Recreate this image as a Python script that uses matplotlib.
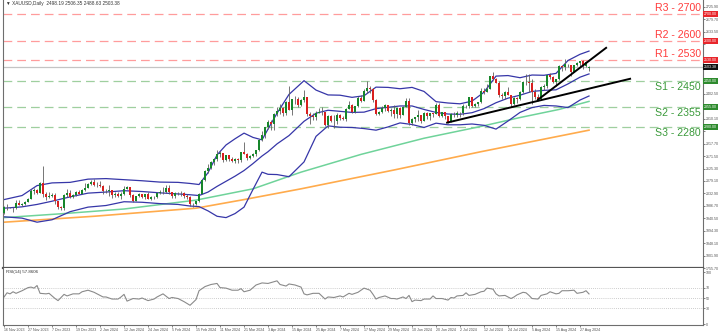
import numpy as np
import matplotlib
matplotlib.use('Agg')
import matplotlib.pyplot as plt
from matplotlib.transforms import blended_transform_factory

plt.rcParams['font.family'] = ['Liberation Sans', 'DejaVu Sans']

# XAUUSD daily bars, 16 Nov 2023 .. 30 Aug 2024 (one row per month)
opens = [
    1960, 1981, 1981, 1980, 1977, 1998, 1990, 1992, 2002, 2013, 2041, 2044,
    2036, 2072, 2029, 2019, 2025, 2028, 2004, 1981, 1979, 2027, 2035, 2019, 2027, 2040, 2031, 2045, 2053, 2067, 2077, 2065,
    2063, 2059, 2041, 2043, 2045, 2027, 2030, 2024, 2029, 2049, 2055, 2028, 2006, 2023, 2029, 2021, 2029, 2014, 2020, 2018, 2033, 2037,
    2039, 2054, 2039, 2024, 2035, 2035, 2034, 2024, 2020, 1992, 1992, 2004,
    2032, 2083, 2115, 2128, 2148, 2159, 2179, 2182, 2158, 2174, 2162, 2155, 2160, 2157, 2186, 2181, 2165, 2171, 2178, 2194,
    2230, 2250, 2280, 2300, 2290, 2329, 2339, 2352, 2333, 2372, 2344, 2383, 2383, 2361, 2379, 2392, 2327, 2322, 2316, 2332, 2337, 2335,
    2286, 2320, 2303, 2301, 2323, 2314, 2309, 2346, 2360, 2336, 2358, 2386, 2376, 2415, 2425, 2420, 2379, 2329, 2334, 2350, 2361, 2338, 2343,
    2327, 2350, 2326, 2355, 2376, 2294, 2311, 2316, 2325, 2303, 2333, 2319, 2330, 2328, 2361, 2322, 2334, 2320, 2298, 2327,
    2326, 2332, 2330, 2356, 2356, 2392, 2359, 2364, 2371, 2415, 2411, 2422, 2469, 2459, 2445, 2400, 2396, 2409, 2398, 2364, 2387, 2384, 2410,
    2447, 2446, 2442, 2410, 2390, 2383, 2427, 2431, 2472, 2465, 2447, 2457, 2507, 2503, 2513, 2512, 2485, 2512, 2518, 2524, 2505, 2498.19,
]
highs = [
    1988, 1994, 1984, 1984, 2008, 2008, 1996, 2004, 2017, 2048, 2052, 2048,
    2075, 2135, 2038, 2040, 2034, 2036, 2006, 1988, 2030, 2048, 2047, 2031, 2043, 2047, 2048, 2071, 2070, 2084, 2088, 2075,
    2078, 2064, 2051, 2064, 2046, 2038, 2040, 2040, 2062, 2059, 2057, 2030, 2024, 2035, 2032, 2031, 2037, 2024, 2025, 2037, 2045, 2056,
    2065, 2066, 2040, 2038, 2040, 2041, 2038, 2031, 2022, 1997, 2005, 2036,
    2088, 2120, 2141, 2152, 2165, 2195, 2189, 2184, 2175, 2175, 2168, 2164, 2163, 2188, 2223, 2185, 2175, 2184, 2196, 2236,
    2266, 2281, 2305, 2305, 2330, 2354, 2365, 2355, 2378, 2431, 2385, 2394, 2393, 2385, 2418, 2393, 2334, 2333, 2338, 2352, 2353, 2336,
    2326, 2326, 2323, 2331, 2328, 2322, 2351, 2378, 2364, 2359, 2396, 2397, 2422, 2450, 2431, 2426, 2385, 2340, 2358, 2364, 2361, 2352, 2361,
    2354, 2353, 2358, 2388, 2387, 2315, 2318, 2342, 2326, 2337, 2334, 2332, 2332, 2368, 2368, 2336, 2335, 2321, 2330, 2336,
    2338, 2335, 2365, 2363, 2392, 2393, 2370, 2374, 2424, 2424, 2440, 2470, 2483, 2462, 2450, 2405, 2413, 2430, 2399, 2391, 2393, 2412, 2451,
    2477, 2477, 2460, 2420, 2401, 2432, 2441, 2473, 2479, 2471, 2460, 2509, 2510, 2531, 2514, 2512, 2512, 2520, 2526, 2528, 2524, 2506.35,
]
lows = [
    1958, 1971, 1978, 1965, 1974, 1989, 1986, 1990, 2001, 2011, 2032, 2031,
    2034, 2018, 2010, 2016, 2018, 1995, 1975, 1973, 1973, 2021, 2015, 2016, 2024, 2029, 2030, 2042, 2053, 2065, 2062, 2058,
    2057, 2031, 2033, 2024, 2017, 2021, 2019, 2013, 2028, 2049, 2018, 2002, 2006, 2021, 2017, 2011, 2012, 2010, 2013, 2015, 2029, 2030,
    2035, 2032, 2015, 2017, 2026, 2025, 2017, 2012, 1985, 1984, 1990, 2000,
    2030, 2078, 2110, 2124, 2140, 2153, 2170, 2150, 2155, 2154, 2150, 2146, 2146, 2150, 2180, 2157, 2160, 2168, 2173, 2191,
    2228, 2240, 2272, 2268, 2267, 2320, 2329, 2319, 2326, 2342, 2325, 2366, 2355, 2358, 2371, 2320, 2292, 2307, 2305, 2331, 2325, 2285,
    2277, 2298, 2277, 2291, 2305, 2304, 2303, 2345, 2332, 2332, 2353, 2372, 2375, 2407, 2405, 2374, 2326, 2325, 2333, 2341, 2334, 2322, 2314,
    2314, 2314, 2323, 2354, 2286, 2287, 2299, 2301, 2296, 2301, 2311, 2306, 2318, 2327, 2316, 2316, 2308, 2293, 2297, 2318,
    2318, 2318, 2326, 2352, 2351, 2353, 2355, 2359, 2368, 2401, 2410, 2420, 2455, 2442, 2393, 2385, 2383, 2400, 2353, 2360, 2370, 2381, 2406,
    2436, 2411, 2364, 2385, 2377, 2382, 2419, 2425, 2460, 2443, 2432, 2455, 2489, 2493, 2502, 2470, 2484, 2505, 2504, 2494, 2503, 2488.63,
]
closes = [
    1981, 1981, 1980, 1977, 1998, 1990, 1992, 2002, 2013, 2041, 2044, 2036,
    2072, 2029, 2019, 2025, 2028, 2004, 1981, 1979, 2027, 2035, 2019, 2027, 2040, 2031, 2045, 2053, 2067, 2077, 2065, 2063,
    2059, 2041, 2043, 2045, 2027, 2030, 2024, 2029, 2049, 2055, 2028, 2006, 2023, 2029, 2021, 2029, 2014, 2020, 2018, 2033, 2037, 2039,
    2054, 2039, 2024, 2035, 2035, 2034, 2024, 2020, 1992, 1992, 2004, 2032,
    2083, 2115, 2128, 2148, 2159, 2179, 2182, 2158, 2174, 2162, 2155, 2160, 2157, 2186, 2181, 2165, 2171, 2178, 2194, 2230,
    2250, 2280, 2300, 2290, 2329, 2339, 2352, 2333, 2372, 2344, 2383, 2383, 2361, 2379, 2392, 2327, 2322, 2316, 2332, 2337, 2335, 2286,
    2320, 2303, 2301, 2323, 2314, 2309, 2346, 2360, 2336, 2358, 2386, 2376, 2415, 2425, 2420, 2379, 2329, 2334, 2350, 2361, 2338, 2343, 2327,
    2350, 2326, 2355, 2376, 2294, 2311, 2316, 2325, 2303, 2333, 2319, 2330, 2328, 2361, 2322, 2334, 2320, 2298, 2327, 2326,
    2332, 2330, 2356, 2356, 2392, 2359, 2364, 2371, 2415, 2411, 2422, 2469, 2459, 2445, 2400, 2396, 2409, 2398, 2364, 2387, 2384, 2410, 2447,
    2446, 2442, 2410, 2390, 2383, 2427, 2431, 2472, 2465, 2447, 2457, 2507, 2503, 2513, 2512, 2485, 2512, 2518, 2524, 2505, 2521, 2503.38,
]

date_labels = ['16 Nov 2023', '27 Nov 2023', '7 Dec 2023', '19 Dec 2023', '2 Jan 2024',
               '12 Jan 2024', '24 Jan 2024', '5 Feb 2024', '15 Feb 2024', '11 Mar 2024',
               '21 Mar 2024', '3 Apr 2024', '15 Apr 2024', '25 Apr 2024', '7 May 2024',
               '17 May 2024', '29 May 2024', '10 Jun 2024', '20 Jun 2024', '2 Jul 2024',
               '12 Jul 2024', '24 Jul 2024', '5 Aug 2024', '15 Aug 2024', '27 Aug 2024']
label_step = 8

# Bollinger(20, 2) envelope, sampled by bar index
bb_idx = [0, 6, 11, 16, 22, 28, 34, 40, 46, 52, 58, 62, 65, 68, 71, 74, 77, 80, 83, 86,
          88, 91, 95, 100, 104, 108, 112, 116, 120, 124, 128, 132, 136, 140, 144, 148,
          152, 156, 160, 164, 168, 172, 176, 180, 184, 188, 192, 195]
bb_up = [2010, 2025, 2062, 2072, 2074, 2086, 2088, 2084, 2080, 2075, 2074, 2070, 2066, 2110, 2176,
         2213, 2236, 2257, 2241, 2232, 2272, 2331, 2401, 2452, 2417, 2399, 2398, 2390, 2396, 2428,
         2427, 2422, 2427, 2412, 2374, 2369, 2366, 2376, 2409, 2469, 2471, 2463, 2473, 2472, 2479,
         2527, 2550, 2562]
bb_mid = [1978, 1983, 1992, 2004, 2020, 2034, 2038, 2043, 2040, 2035, 2031, 2028, 2025, 2038, 2059,
          2078, 2097, 2118, 2144, 2172, 2188, 2217, 2248, 2301, 2331, 2342, 2338, 2334, 2335, 2348,
          2353, 2358, 2358, 2345, 2334, 2328, 2327, 2333, 2348, 2370, 2387, 2398, 2412, 2416, 2418,
          2440, 2465, 2477]
bb_low = [1946, 1941, 1926, 1935, 1965, 1982, 1988, 2002, 2000, 1995, 1992, 1986, 1984, 1968, 1948,
          1943, 1958, 1982, 2048, 2112, 2104, 2103, 2095, 2150, 2245, 2284, 2279, 2278, 2274, 2268,
          2280, 2295, 2289, 2278, 2294, 2288, 2288, 2291, 2286, 2272, 2302, 2334, 2352, 2360, 2358,
          2352, 2380, 2395]

# moving averages, sampled by bar index
ma100_idx = [0, 20, 40, 64, 83, 99, 119, 140, 159, 172, 185, 195]
ma100 = [1943, 1958, 1975, 2008, 2050, 2112, 2178, 2238, 2282, 2315, 2345, 2375]
ma200_idx = [0, 30, 64, 80, 99, 130, 159, 195]
ma200 = [1926, 1948, 1978, 2010, 2050, 2120, 2188, 2268]

# RSI(14), sampled by bar index
rsi_idx = [0, 1, 2, 3, 4, 6, 8, 9, 10, 11, 12, 14, 15, 17, 18, 20, 21, 23, 25, 26, 28, 30, 31, 33, 34,
           36, 38, 39, 40, 41, 43, 45, 46, 48, 50, 51, 53, 55, 56, 58, 60, 62, 64, 65, 67, 69, 71, 72,
           74, 76, 78, 79, 80, 82, 84, 86, 88, 91, 92, 94, 95, 97, 99, 100, 101, 103, 105, 107, 108,
           110, 112, 113, 115, 116, 118, 119, 120, 122, 123, 124, 125, 127, 129, 130, 131, 133, 134,
           135, 136, 137, 139, 140, 142, 143, 144, 146, 148, 149, 150, 151, 153, 154, 155, 157, 159,
           160, 161, 163, 164, 165, 167, 169, 170, 171, 173, 174, 175, 176, 178, 179, 181, 182, 184,
           185, 186, 188, 190, 191, 193, 194, 195]
rsi = [52, 60, 58, 62, 59, 64, 70, 71, 69, 74, 59, 58, 59, 49, 45, 57, 54, 58, 58, 62, 65, 61, 58, 52, 52,
       48, 48, 52, 57, 44, 49, 48, 50, 45, 48, 52, 58, 49, 51, 49, 43, 36, 47, 64, 72, 76, 78, 70,
       69, 65, 65, 68, 62, 65, 75, 79, 78, 83, 76, 73, 77, 75, 71, 58, 56, 59, 59, 48, 52,
       51, 54, 52, 59, 57, 61, 65, 69, 65, 57, 48, 51, 54, 49, 49, 48, 52, 49,
       55, 43, 46, 45, 48, 48, 54, 49, 49, 46, 51, 50, 54, 55, 60, 55, 57, 62,
       63, 69, 67, 58, 54, 55, 49, 52, 56, 61, 60, 55, 49, 48, 55, 58, 62, 58,
       59, 64, 64, 65, 59, 61, 64, 57.86]

levels_r = [2700, 2600, 2530]
levels_s = [2450, 2355, 2280]
level_names_r = ['R3', 'R2', 'R1']
level_names_s = ['S1', 'S2', 'S3']

# trend lines: (bar index, price) end points
trend_steep = ([178, 200.7], [2381.5, 2574])
trend_long = ([147.7, 208.7], [2296, 2459])

title_text = '\u25bc XAUUSD,Daily  2498.19 2506.35 2488.63 2503.38'
rsi_label = 'RSI(14) 57.8606'

# colours
BULL = '#17862b'
BEAR = '#d8201f'
WICK = '#5f5f5f'
BAND = '#3636a8'
MA_G = '#6fd39a'
MA_O = '#ffab4c'
R_LINE = '#ff9c9c'
S_LINE = '#9fcf9f'
R_TXT = '#ff3b3b'
S_TXT = '#3b9a3b'
FRAME = '#6e6e6e'
TICK_TXT = '#505050'

W, H = 720, 334
fig = plt.figure(figsize=(W / 100, H / 100), dpi=100)
fig.patch.set_facecolor('white')

def px_box(x0, y0, x1, y1):
    return [x0 / W, 1 - y1 / H, (x1 - x0) / W, (y1 - y0) / H]

ax = fig.add_axes(px_box(3, 0, 703, 268))
ar = fig.add_axes(px_box(3, 268, 703, 325), sharex=ax)

n = len(closes)
x = np.arange(n)
o = np.array(opens); h = np.array(highs); l = np.array(lows); c = np.array(closes)
up = c >= o

ax.set_xlim(-0.35, 233)
ax.set_ylim(2700 - 254 / 0.27, 2700 + 14 / 0.27)

# support / resistance levels
for v, nm in zip(levels_r, level_names_r):
    ax.axhline(v, color=R_LINE, lw=0.9, ls=(0, (7, 4)), zorder=1)
    ax.text(232.3, v + 3, f'{nm} - {v}', color=R_TXT, fontsize=7.6, ha='right', va='bottom', zorder=6)
for v, nm in zip(levels_s, level_names_s):
    ax.axhline(v, color=S_LINE, lw=0.9, ls=(0, (7, 4)), zorder=1)
    ax.text(232.3, v - 4, f'{nm} - {v}', color=S_TXT, fontsize=7.6, ha='right', va='top', zorder=6)

# last price line
ax.axhline(closes[-1], color='#c4c4c4', lw=0.9, zorder=1)

# moving averages and bands
ax.plot(ma200_idx, ma200, color=MA_O, lw=1.2, zorder=2)
ax.plot(ma100_idx, ma100, color=MA_G, lw=1.1, zorder=2)
for arr in (bb_up, bb_mid, bb_low):
    ax.plot(bb_idx, arr, color=BAND, lw=0.9, zorder=2)

# candles
ax.vlines(x, l, h, color=WICK, lw=0.6, zorder=3)
body = np.where(np.abs(c - o) < 1.2, 1.2, c - o)
ax.bar(x, body, bottom=o, width=0.7, color=np.where(up, BULL, BEAR), lw=0, zorder=4)

# trend lines
ax.plot(*trend_steep, color='black', lw=1.4, zorder=5)
ax.plot(*trend_long, color='black', lw=1.4, zorder=5)

ax.text(0.6, 2700 + 10 / 0.27, title_text, fontsize=3.4, color='#333333', va='center', ha='left')

# price scale on the right; labels hidden where a price tag sits on top
tags = [(v, '#e8262b') for v in levels_r] + [(closes[-1], '#111111')] + [(v, '#2e8b2e') for v in levels_s]
yt = [1755.70 + 46.2 * k for k in range(22)]
ax.yaxis.tick_right()
ax.set_yticks(yt)
ax.set_yticklabels(['' if min(abs(v - t) for t, _ in tags) < 20 else f'{v:.2f}' for v in yt])
ax.tick_params(axis='y', labelsize=2.6, length=1.5, width=0.5, pad=0.8, colors=TICK_TXT)
ax.tick_params(axis='x', bottom=False, labelbottom=False)

tr = blended_transform_factory(ax.transAxes, ax.transData)
for v, col in tags:
    ax.text(1.0015, v, f'{v:.2f}', transform=tr, fontsize=2.6, color='white', ha='left', va='center',
            clip_on=False, zorder=7,
            bbox=dict(boxstyle='square,pad=0.3', fc=col, ec='none'))

ax.spines['top'].set_visible(False)
ax.spines['left'].set_color(FRAME)
ax.spines['right'].set_color(FRAME)
ax.spines['bottom'].set_color('#555555')
ax.spines['bottom'].set_linewidth(1.6)

# RSI pane
ar.set_ylim(-1.9, 107.7)
for v in (70, 50, 30):
    ar.axhline(v, color='#bdbdbd', lw=0.6, ls=(0, (1, 1.5)))
ar.plot(rsi_idx, rsi, color='#8a8a8a', lw=0.8)
ar.text(0.6, 104, rsi_label, fontsize=3.2, color='#333333', va='top', ha='left')
ar.yaxis.tick_right()
ar.set_yticks([0, 30, 50, 70, 100])
ar.tick_params(axis='y', labelsize=2.6, length=1.5, width=0.5, pad=0.8, colors=TICK_TXT)

ticks = list(range(0, label_step * len(date_labels), label_step))
ar.set_xticks(ticks)
ar.set_xticklabels(date_labels, ha='left')
ar.tick_params(axis='x', labelsize=2.6, length=1.5, width=0.5, pad=1, colors=TICK_TXT)
for s in ('left', 'right', 'bottom'):
    ar.spines[s].set_color(FRAME)
ar.spines['top'].set_visible(False)

fig.savefig('out.png', dpi=100)
